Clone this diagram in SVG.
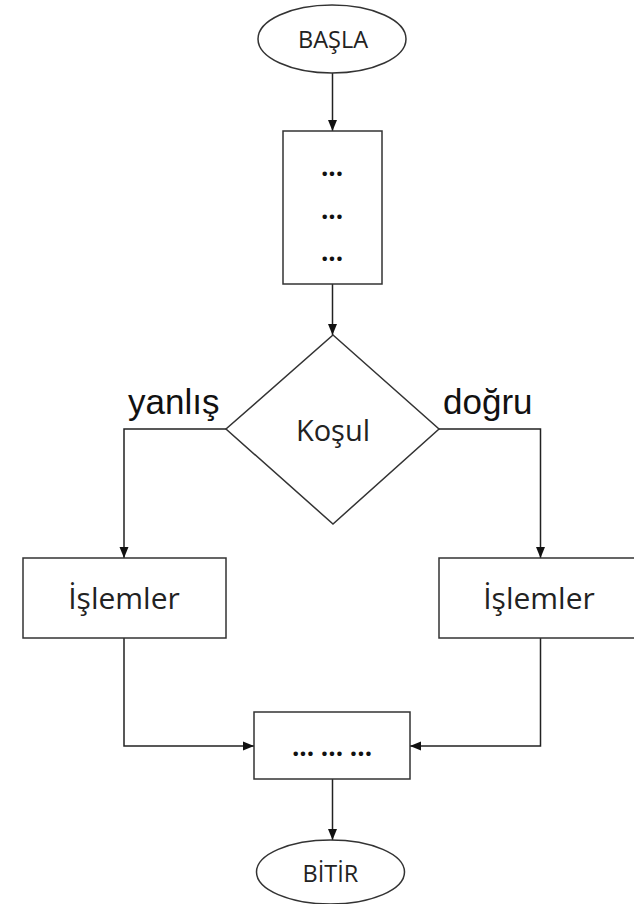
<svg xmlns="http://www.w3.org/2000/svg" width="634" height="904" viewBox="0 0 634 904">
<style>
.shape{fill:#fff;stroke:#333;stroke-width:1.5}
.conn{fill:none;stroke:#222;stroke-width:1.5}
.t{font-family:"Open Sans","Noto Sans",sans-serif;fill:#222;text-anchor:middle}
.lbl{font-family:"Liberation Sans",Arial,sans-serif;fill:#111;font-size:35px}
.dots{font-family:"Open Sans","Noto Sans",sans-serif;fill:#111;text-anchor:middle;font-weight:bold;font-size:26px}
</style>
<defs>
<marker id="ah" markerUnits="userSpaceOnUse" markerWidth="11" markerHeight="10" refX="11" refY="5" orient="auto">
<path d="M0,0.5 L11,5 L0,9.5 z" fill="#111"/>
</marker>
</defs>
<rect width="634" height="904" fill="#fff"/>
<g id="connectors">
<line class="conn" x1="332.5" y1="73" x2="332.5" y2="131" marker-end="url(#ah)"/>
<line class="conn" x1="332.5" y1="284" x2="332.5" y2="335" marker-end="url(#ah)"/>
<polyline class="conn" points="226,429 124,429 124,558" marker-end="url(#ah)"/>
<polyline class="conn" points="439,429 540.5,429 540.5,558" marker-end="url(#ah)"/>
<polyline class="conn" points="124,638 124,746 254,746" marker-end="url(#ah)"/>
<polyline class="conn" points="540.5,638 540.5,746 410,746" marker-end="url(#ah)"/>
<line class="conn" x1="332.5" y1="779" x2="332.5" y2="840" marker-end="url(#ah)"/>
</g>
<g id="basla">
<ellipse class="shape" cx="332" cy="39" rx="74" ry="34"/>
<text class="t" x="333" y="48" font-size="23.5">BAŞLA</text>
</g>
<g id="box1">
<rect class="shape" x="283" y="131" width="99" height="153"/>
<text class="dots" x="332" y="176">...</text>
<text class="dots" x="332" y="218.5">...</text>
<text class="dots" x="332" y="261">...</text>
</g>
<g id="kosul">
<polygon class="shape" points="333,335 439,429 333,524 226,429"/>
<text class="t" x="333" y="441" font-size="29">Koşul</text>
</g>
<g id="labels">
<text class="lbl" x="128" y="414">yanlış</text>
<text class="lbl" x="443" y="414">doğru</text>
</g>
<g id="islemler-left">
<rect class="shape" x="23" y="558" width="203" height="80"/>
<text class="t" x="124" y="609" font-size="30">İşlemler</text>
</g>
<g id="islemler-right">
<rect class="shape" x="439" y="558" width="203" height="80"/>
<text class="t" x="539" y="609" font-size="30">İşlemler</text>
</g>
<g id="box-merge">
<rect class="shape" x="254" y="712" width="156" height="67"/>
<text class="dots" x="332" y="755.5">... ... ...</text>
</g>
<g id="bitir">
<ellipse class="shape" cx="330.5" cy="872" rx="74" ry="32"/>
<text class="t" x="330.5" y="882" font-size="23.5">BİTİR</text>
</g>
</svg>
